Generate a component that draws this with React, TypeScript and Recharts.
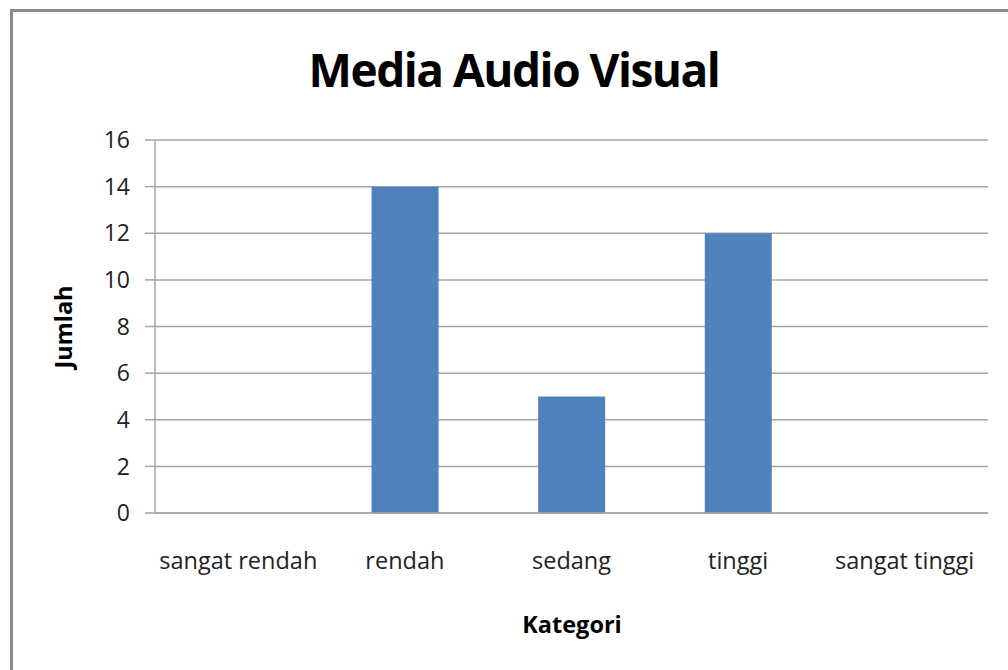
import React from "react";
import { BarChart, Bar, XAxis, YAxis, CartesianGrid } from "recharts";

const categories = ["sangat rendah", "rendah", "sedang", "tinggi", "sangat tinggi"];
const jumlah = [0, 14, 5, 12, 0];
const yTicks = [0, 2, 4, 6, 8, 10, 12, 14, 16];

const data = categories.map((c, i) => ({ kategori: c, jumlah: jumlah[i] }));

const FONT = "'Open Sans', 'Noto Sans', sans-serif";

export default function App() {
  return (
    <div style={{ position: "fixed", left: 0, top: 0, width: 1008, height: 670, background: "#fff", overflow: "hidden", fontFamily: FONT }}>
      <div style={{ position: "absolute", left: 10, top: 9, width: 1100, height: 800, border: "3px solid #8a8a8a", boxSizing: "border-box" }} />
      <div style={{ position: "absolute", left: 0, top: 34, width: 1028, textAlign: "center", fontSize: 46, fontWeight: 700, color: "#000", lineHeight: "70px", letterSpacing: -1.5 }}>
        Media Audio Visual
      </div>
      <div style={{ position: "absolute", left: 63, top: 327, transform: "translate(-50%, -50%) rotate(-90deg)", fontSize: 23.5, fontWeight: 700, whiteSpace: "nowrap", color: "#000" }}>
        Jumlah
      </div>
      <div style={{ position: "absolute", left: 572, top: 624, transform: "translate(-50%, -50%)", fontSize: 23.5, fontWeight: 700, whiteSpace: "nowrap", color: "#000" }}>
        Kategori
      </div>
      <div style={{ position: "absolute", left: 0, top: 0 }}>
        <BarChart width={1008} height={670} data={data} margin={{ top: 140, right: 20, bottom: 97, left: 0 }} barCategoryGap="30%">
          <CartesianGrid vertical={false} stroke="#a6a6a6" strokeWidth={1.5} />
          <XAxis
            dataKey="kategori"
            height={60}
            tickLine={false}
            tickSize={0}
            tickMargin={39}
            axisLine={{ stroke: "#a6a6a6", strokeWidth: 1.5 }}
            tick={{ fontSize: 23.5, fill: "#222", fontFamily: FONT }}
            interval={0}
          />
          <YAxis
            width={155}
            domain={[0, 16]}
            ticks={yTicks}
            interval={0}
            tickSize={10}
            tickMargin={15}
            tickLine={{ stroke: "#a6a6a6", strokeWidth: 1.5 }}
            axisLine={{ stroke: "#a6a6a6", strokeWidth: 1.5 }}
            tick={{ fontSize: 23, fill: "#222", fontFamily: FONT }}
          />
          <Bar dataKey="jumlah" fill="#4f81bd" isAnimationActive={false} />
        </BarChart>
      </div>
    </div>
  );
}
